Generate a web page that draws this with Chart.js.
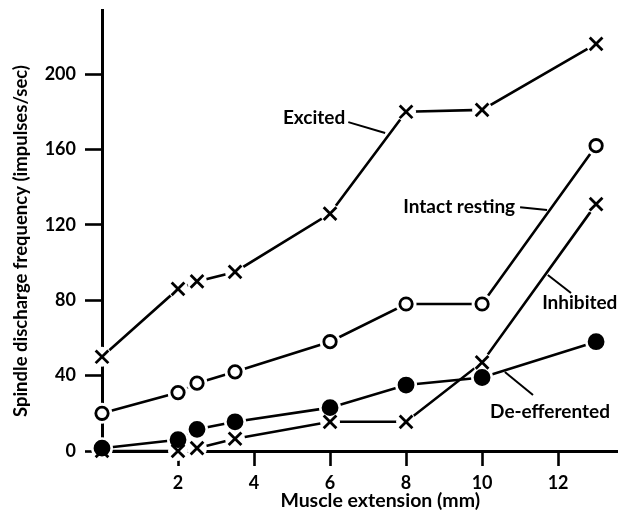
<!DOCTYPE html>
<html>
<head>
<meta charset="utf-8">
<script src="https://cdn.jsdelivr.net/npm/chart.js@4/dist/chart.umd.min.js"></script>
<style>
  html, body { margin: 0; padding: 0; background: #fff; }
  #wrap { width: 623px; height: 517px; position: relative; }
</style>
</head>
<body>
<div id="wrap"><canvas id="chart"></canvas></div>
<script>
// muscle extension (mm) at which each series was sampled
const extension = [0, 2, 2.5, 3.5, 6, 8, 10, 13]

// spindle discharge frequency (impulses/sec)
const excited = [50, 86, 90, 95, 126, 180, 181, 216]
const intactResting = [20, 31, 36, 42, 58, 78, 78, 162]
const inhibited = [0, 0, 1.5, 6.5, 15.5, 15.5, 47, 131]
const deEfferented = [1.5, 6, 11.5, 15.5, 23, 35, 39, 58]

const xTicks = [2, 4, 6, 8, 10, 12]
const yTicks = [0, 40, 80, 120, 160, 200]

const xTitle = 'Muscle extension (mm)'
const yTitle = 'Spindle discharge frequency (impulses/sec)'

// series labels with their leader lines, in data units
const callouts = [
    {text: 'Excited', x: 6.40, y: 176.7, align: 'right', from: [6.48, 174.5], to: [7.45, 168.7]},
    {text: 'Intact resting', x: 10.87, y: 129.4, align: 'right', from: [11.0, 129.4], to: [11.71, 127.9]},
    {text: 'Inhibited', x: 11.58, y: 78.5, align: 'left', from: [11.73, 93.4], to: [12.34, 83.8]},
    {text: 'De-efferented', x: 10.21, y: 20.7, align: 'left', from: [10.60, 41.9], to: [11.34, 29.7]},
]

const FONT = 'Lato, "DejaVu Sans", sans-serif'
const toPoints = vals => vals.map((v, i) => ({x: extension[i], y: v}))

const series = [
    {data: excited, style: 'crossRot', radius: 9, fill: '#fff', halo: 10},
    {data: intactResting, style: 'circle', radius: 6.2, fill: '#fff', halo: 10.5},
    {data: inhibited, style: 'crossRot', radius: 9, fill: '#fff', halo: 10},
    {data: deEfferented, style: 'circle', radius: 7, fill: '#000', halo: 11},
]

const datasets = []
series.forEach(s => {
    // the connecting line
    datasets.push({
        data: toPoints(s.data), order: 3, clip: false,
        borderColor: '#000', borderWidth: 2.6, pointRadius: 0, tension: 0,
    })
    // white gap round each marker
    datasets.push({
        data: toPoints(s.data), order: 2, clip: false, showLine: false,
        pointStyle: 'circle', pointRadius: s.halo, pointBorderWidth: 0,
        pointBackgroundColor: '#fff', pointBorderColor: '#fff',
    })
    // the marker itself
    datasets.push({
        data: toPoints(s.data), order: 1, clip: false, showLine: false,
        pointStyle: s.style, pointRadius: s.radius, pointBorderWidth: 2.8,
        pointBorderColor: '#000', pointBackgroundColor: s.fill,
    })
})

const annotate = {
    id: 'callouts',
    afterDatasetsDraw(chart) {
        const {ctx, scales: {x, y}} = chart
        ctx.save()
        ctx.fillStyle = '#000'
        ctx.strokeStyle = '#000'
        ctx.lineWidth = 2
        ctx.font = `bold 19px ${FONT}`
        ctx.textBaseline = 'middle'
        callouts.forEach(c => {
            ctx.textAlign = c.align
            ctx.fillText(c.text, x.getPixelForValue(c.x), y.getPixelForValue(c.y))
            ctx.beginPath()
            ctx.moveTo(x.getPixelForValue(c.from[0]), y.getPixelForValue(c.from[1]))
            ctx.lineTo(x.getPixelForValue(c.to[0]), y.getPixelForValue(c.to[1]))
            ctx.stroke()
        })

        // axis titles
        ctx.textAlign = 'center'
        ctx.font = `bold 19.5px ${FONT}`
        ctx.fillText(xTitle, x.getPixelForValue(7.32), chart.chartArea.bottom + 50)
        ctx.font = `bold 18.5px ${FONT}`
        ctx.translate(21, y.getPixelForValue(111.4))
        ctx.rotate(-Math.PI / 2)
        ctx.fillText(yTitle, 0, 0)
        ctx.restore()
    },
}

new Chart(document.getElementById('chart'), {
    type: 'line',
    data: {datasets},
    options: {
        responsive: true,
        maintainAspectRatio: false,
        animation: false,
        layout: {autoPadding: false, padding: {top: 10, right: 6, left: 0, bottom: 0}},
        plugins: {legend: {display: false}, tooltip: {enabled: false}},
        scales: {
            x: {
                type: 'linear',
                min: 0,
                max: 13.55,
                afterBuildTicks: scale => { scale.ticks = xTicks.map(v => ({value: v})) },
                afterFit: scale => {
                    scale.height = 66
                    scale.paddingLeft = 0
                    scale.paddingRight = 0
                },
                border: {display: true, color: '#000', width: 3},
                grid: {drawOnChartArea: false, drawTicks: true, tickLength: 15, tickColor: '#000', tickWidth: 2.6},
                ticks: {color: '#000', padding: 6, font: {family: FONT, size: 18, weight: 'bold'}, maxRotation: 0},
            },
            y: {
                type: 'linear',
                min: 0,
                max: 234,
                afterBuildTicks: scale => { scale.ticks = yTicks.map(v => ({value: v})) },
                afterFit: scale => {
                    scale.width = 102
                    scale.paddingTop = 0
                    scale.paddingBottom = 0
                },
                border: {display: true, color: '#000', width: 3},
                grid: {drawOnChartArea: false, drawTicks: true, tickLength: 17, tickColor: '#000', tickWidth: 2.6},
                ticks: {color: '#000', padding: 9, font: {family: FONT, size: 18, weight: 'bold'}},
            },
        },
    },
    plugins: [annotate],
})
</script>
</body>
</html>
